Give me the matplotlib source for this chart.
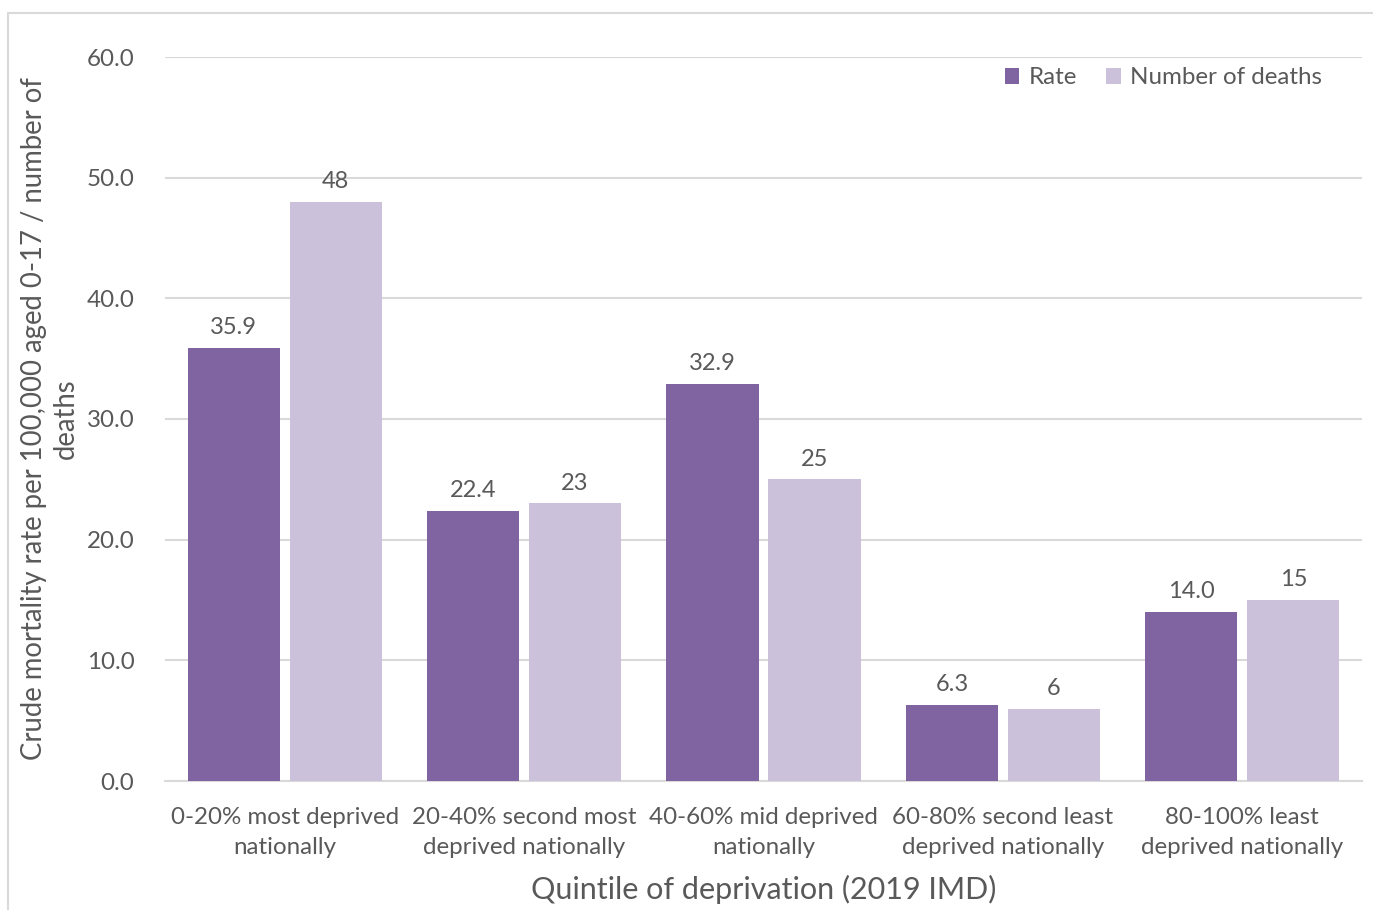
import matplotlib.pyplot as plt
import matplotlib.patches as mpatches
import numpy as np

plt.rcParams["font.family"] = ["Lato", "DejaVu Sans"]

categories = ["0-20% most deprived\nnationally", "20-40% second most\ndeprived nationally",
              "40-60% mid deprived\nnationally", "60-80% second least\ndeprived nationally",
              "80-100% least\ndeprived nationally"]
rate = [35.9, 22.4, 32.9, 6.3, 14.0]
deaths = [48, 23, 25, 6, 15]

rate_color = "#8064A2"
deaths_color = "#CCC1DA"
text_color = "#595959"
grid_color = "#D9D9D9"

fig = plt.figure(figsize=(13.73, 9.10), dpi=100)
ax = fig.add_axes([165 / 1373, 1 - 781 / 910, (1362 - 165) / 1373, (781 - 57) / 910])

# outer chart border (cropped at right and bottom)
fig.patches.append(mpatches.Rectangle((8 / 1373, -0.1), 1.2, 1 - 13 / 910 + 0.1,
                                      transform=fig.transFigure, fill=False,
                                      edgecolor=grid_color, linewidth=1.5))

x = np.arange(len(categories))
w = 0.385
off = 0.213
b1 = ax.bar(x - off, rate, w, color=rate_color, label="Rate", zorder=3)
b2 = ax.bar(x + off, deaths, w, color=deaths_color, label="Number of deaths", zorder=3)

ax.bar_label(b1, labels=[f"{v:.1f}" for v in rate], padding=7, fontsize=17, color=text_color)
ax.bar_label(b2, labels=[f"{v}" for v in deaths], padding=7, fontsize=17, color=text_color)

ax.set_xlim(-0.5, len(categories) - 0.5)
ax.set_ylim(0, 60)
ax.set_yticks(np.arange(0, 61, 10))
ax.set_yticklabels([f"{v:.1f}" for v in np.arange(0, 61, 10)])
ax.set_xticks(x)
ax.set_xticklabels(categories, linespacing=1.5)
ax.tick_params(axis="both", length=0, labelsize=17.4, colors=text_color)
ax.tick_params(axis="y", pad=22)
ax.tick_params(axis="x", pad=19)

ax.yaxis.grid(True, color=grid_color, linewidth=1.5, zorder=0)
for s in ["top", "right", "left"]:
    ax.spines[s].set_visible(False)
ax.spines["bottom"].set_color(grid_color)
ax.spines["bottom"].set_linewidth(1.5)

ax.set_xlabel("Quintile of deprivation (2019 IMD)", fontsize=22, color=text_color, labelpad=12)
ax.set_ylabel("Crude mortality rate per 100,000 aged 0-17 / number of\ndeaths",
              fontsize=19.8, color=text_color, linespacing=1.3)
ax.yaxis.set_label_coords(-0.072, 0.5)

leg = ax.legend(loc="center right", bbox_to_anchor=(0.967, 0.971), ncol=2, frameon=False,
                fontsize=17.4, handlelength=0.6, handleheight=0.6, handletextpad=0.4,
                columnspacing=1.2, borderpad=0, borderaxespad=0)
for t in leg.get_texts():
    t.set_color(text_color)

fig.savefig("out.png", dpi=100)
